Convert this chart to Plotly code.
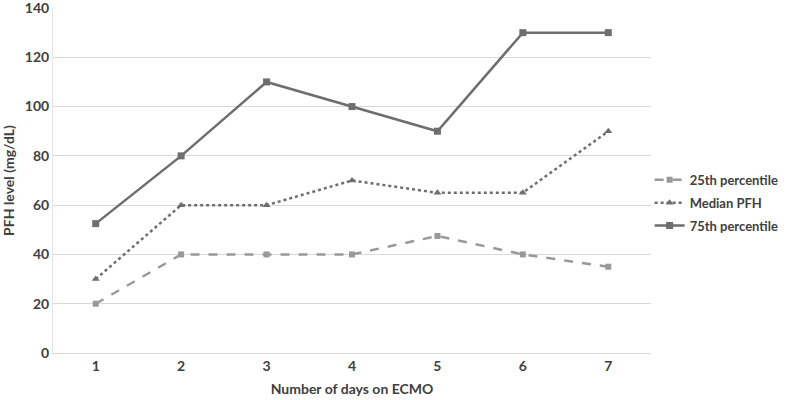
import plotly.graph_objects as go

days = [1, 2, 3, 4, 5, 6, 7]
p25 = [20, 40, 40, 40, 47.5, 40, 35]
median = [30, 60, 60, 70, 65, 65, 90]
p75 = [52.5, 80, 110, 100, 90, 130, 130]
yticks = [0, 20, 40, 60, 80, 100, 120, 140]

FONT = "Lato"

fig = go.Figure()
fig.add_trace(go.Scatter(x=days, y=p25, name="<b>25th percentile</b>", mode="lines+markers",
                         legendgroup="a",
                         line=dict(color="#999999", width=2.5, dash="dash"),
                         marker=dict(symbol="square", size=6, color="#999999")))
fig.add_trace(go.Scatter(x=days, y=median, name="<b>Median PFH</b>", mode="lines+markers",
                         legendgroup="b",
                         line=dict(color="#6e6e6e", width=2.5, dash="dot"),
                         marker=dict(symbol="triangle-up", size=7, color="#6e6e6e")))
fig.add_trace(go.Scatter(x=days, y=p75, name="<b>75th percentile</b>", mode="lines+markers",
                         legendgroup="c",
                         line=dict(color="#6e6e6e", width=2.5),
                         marker=dict(symbol="square", size=7, color="#6e6e6e")))

fig.update_layout(
    width=786, height=400,
    margin=dict(l=53, r=135, t=8, b=47, autoexpand=False),
    paper_bgcolor="white", plot_bgcolor="white",
    font=dict(family=FONT, size=14, color="#404040"),
    showlegend=True,
    legend=dict(xref="container", yref="container", x=0.8265, y=0.493,
                xanchor="left", yanchor="middle", itemwidth=30,
                traceorder="grouped", tracegroupgap=3,
                font=dict(size=13, color="#404040", family=FONT),
                bgcolor="rgba(0,0,0,0)"),
    xaxis=dict(range=[0.5, 7.5], tickvals=days, ticktext=[f"<b>{d}</b>" for d in days],
               showgrid=False, zeroline=False, showline=True, linecolor="#d9d9d9",
               ticks="", tickfont=dict(size=14),
               title=dict(text="<b>Number of days on ECMO</b>", font=dict(size=14), standoff=11)),
    yaxis=dict(range=[0, 140], tickvals=yticks,
               ticktext=[f"<b>{v}</b>" for v in yticks], ticklabeloverflow="allow",
               showgrid=True, gridcolor="#d9d9d9", gridwidth=1, zeroline=False,
               showline=True, linecolor="#e6e6e6", ticks="", tickfont=dict(size=14),
               title=dict(text="<b>PFH level (mg/dL)</b>", font=dict(size=14), standoff=6)),
)

fig.write_html("out.html", config={"displayModeBar": False},
               post_script="document.body.style.margin='0';")
